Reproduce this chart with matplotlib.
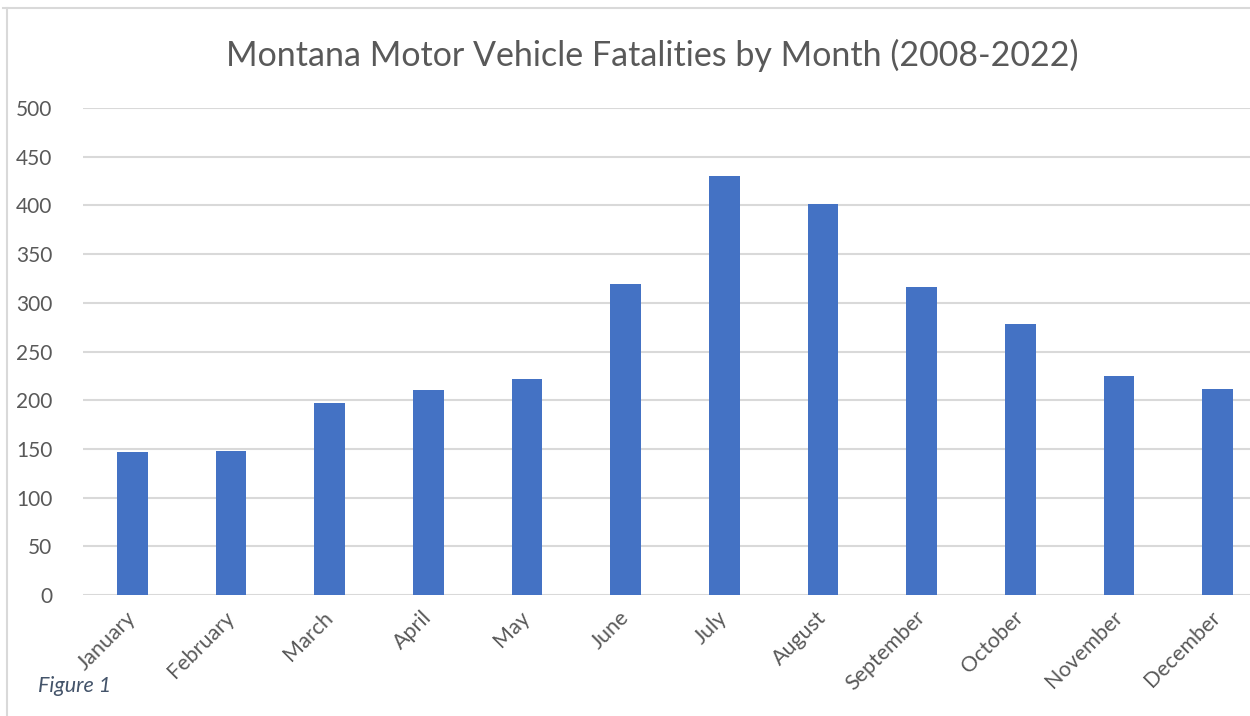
import matplotlib
matplotlib.use("Agg")
import matplotlib.pyplot as plt
from matplotlib.lines import Line2D

months = ["January", "February", "March", "April", "May", "June",
          "July", "August", "September", "October", "November", "December"]
fatalities = [147, 148, 197, 210, 222, 319, 430, 401, 316, 278, 225, 211]
yticks = [0, 50, 100, 150, 200, 250, 300, 350, 400, 450, 500]

plt.rcParams['font.family'] = ['Lato', 'DejaVu Sans']
txt = '#595959'
grid = '#d9d9d9'

fig = plt.figure(figsize=(12.5, 7.16), dpi=100)
ax = fig.add_axes([83/1250, 121/716, 1184/1250, 487/716])

x = list(range(len(months)))
ax.bar(x, fatalities, width=0.31, color='#4472C4', zorder=3)
ax.set_xlim(-0.5, len(months) - 0.5)
ax.set_ylim(0, 500)
ax.set_yticks(yticks)
ax.set_yticklabels([str(v) for v in yticks], fontsize=15, color=txt)
ax.yaxis.grid(True, color=grid, lw=1.5, zorder=0)
ax.tick_params(axis='y', length=0, pad=22)
ax.tick_params(axis='x', length=0, pad=14)
ax.set_xticks(x)
ax.set_xticklabels(months, fontsize=15.5, color=txt, rotation=45,
                   ha='right', va='center', rotation_mode='anchor')
for s in ax.spines.values():
    s.set_visible(False)

fig.text(652/1250, 1 - 55/716, "Montana Motor Vehicle Fatalities by Month (2008-2022)",
         ha='center', va='center', fontsize=24.5, color=txt)
fig.text(38/1250, 1 - 686/716, "Figure 1", ha='left', va='center',
         fontsize=15.5, style='italic', color='#44546A')

# chart frame
fig.add_artist(Line2D([3/1250, 1], [1 - 8/716, 1 - 8/716], color=grid, lw=1.5))
fig.add_artist(Line2D([7/1250, 7/1250], [0, 1 - 8/716], color=grid, lw=1.5))

fig.savefig("out.png", dpi=100)
